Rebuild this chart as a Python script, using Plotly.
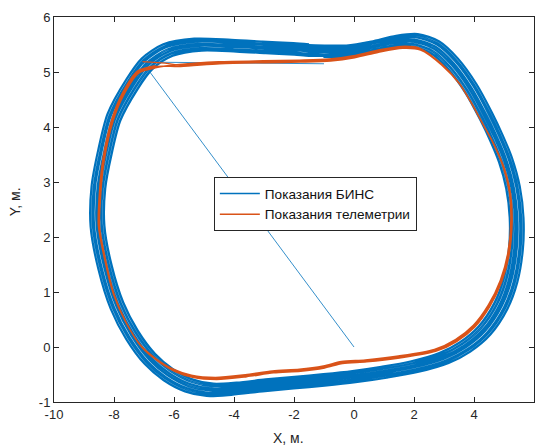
import plotly.graph_objects as go

# --- BINS (inertial navigation) trajectory -------------------------------
# initial alignment segment: from the origin to the start corner, then along the top
BINS_START_X = [0.0, -7.05, -1.0]
BINS_START_Y = [0.0, 5.18, 5.15]

# one lap of the BINS track, clockwise, starting on the top edge
BINS_LOOP_X = [-1.0, -0.3, 0.5, 1.3, 2.0, 2.7, 3.3, 3.9, 4.4, 4.75, 5.05, 5.3, 5.42,
               5.4, 5.22, 4.9, 4.35, 3.7, 3.0, 2.0, 1.0, 0.0, -1.0, -2.0, -3.0, -4.0,
               -4.8, -5.5, -6.2, -6.8, -7.4, -7.9, -8.3, -8.55, -8.52, -8.3, -8.0,
               -7.4, -6.9, -6.2, -5.2, -4.0, -3.0, -2.0, -1.5]
BINS_LOOP_Y = [5.38, 5.38, 5.45, 5.55, 5.58, 5.45, 5.15, 4.7, 4.2, 3.8, 3.4, 2.9, 2.35,
               1.8, 1.22, 0.75, 0.3, 0.0, -0.2, -0.36, -0.46, -0.54, -0.6, -0.65, -0.7,
               -0.76, -0.78, -0.7, -0.5, -0.22, 0.22, 0.75, 1.45, 2.2, 2.9, 3.55, 4.18,
               4.78, 5.15, 5.4, 5.5, 5.48, 5.45, 5.42, 5.4]

# per-lap drift of the BINS solution (scale about the track centre)
BINS_CENTER_X = -1.57
BINS_CENTER_Y = 2.4
BINS_LAP_SX = [0.965, 0.970, 0.977, 0.983, 0.990, 0.995, 1.001, 1.006, 1.014, 1.019, 1.024, 1.031, 1.035]
BINS_LAP_SY = [0.962, 0.968, 0.975, 0.981, 0.989, 0.994, 1.000, 1.006, 1.014, 1.019, 1.025, 1.032, 1.037]

# --- telemetry (reference) trajectory -------------------------------------
TEL_START_X = [-7.05, -6.3]
TEL_START_Y = [5.19, 5.16]

TEL_LOOP_X = [-5.8, -4.5, -3.0, -1.8, -0.8, 0.0, 0.8, 1.6, 2.2, 2.9, 3.5, 3.9, 4.3, 4.65,
              5.0, 5.2, 5.25, 5.15, 4.9, 4.5, 4.0, 3.4, 2.7, 1.5, 0.4, -0.4, -1.0, -1.8,
              -2.7, -3.6, -4.6, -5.4, -6.0, -6.6, -7.1, -7.6, -8.0, -8.3, -8.5, -8.45,
              -8.35, -8.05, -7.7, -7.2, -6.6]
TEL_LOOP_Y = [5.12, 5.17, 5.19, 5.2, 5.22, 5.28, 5.38, 5.45, 5.42, 5.15, 4.8, 4.45, 4.05,
              3.7, 3.25, 2.8, 2.3, 1.7, 1.2, 0.75, 0.38, 0.12, -0.06, -0.18, -0.25, -0.28,
              -0.36, -0.42, -0.45, -0.52, -0.57, -0.53, -0.42, -0.22, 0.02, 0.45, 0.95,
              1.6, 2.2, 2.9, 3.4, 4.13, 4.6, 5.0, 5.1]
TEL_LAP_DX = [0.0, 0.02, -0.02]
TEL_LAP_DY = [0.0, -0.02, 0.015]

X_TICKS = [-10, -8, -6, -4, -2, 0, 2, 4, 6]
Y_TICKS = [-1, 0, 1, 2, 3, 4, 5, 6]

BLUE = "#0072BD"
ORANGE = "#D95319"
INK = "#262626"
FONT = "Liberation Sans, Arial, sans-serif"

# assemble lap sequences
bins_x, bins_y = [], []
for sx, sy in zip(BINS_LAP_SX, BINS_LAP_SY):
    bins_x += [BINS_CENTER_X + (x - BINS_CENTER_X) * sx for x in BINS_LOOP_X]
    bins_y += [BINS_CENTER_Y + (y - BINS_CENTER_Y) * sy for y in BINS_LOOP_Y]

tel_x, tel_y = [], []
for dx, dy in zip(TEL_LAP_DX, TEL_LAP_DY):
    tel_x += [x + dx for x in TEL_LOOP_X]
    tel_y += [y + dy for y in TEL_LOOP_Y]

fig = go.Figure()

fig.add_trace(go.Scatter(
    x=BINS_START_X, y=BINS_START_Y, mode="lines",
    line=dict(color=BLUE, width=0.8), legendgroup="bins", showlegend=False,
    hoverinfo="skip"))
fig.add_trace(go.Scatter(
    x=bins_x, y=bins_y, mode="lines", name="Показания БИНС",
    line=dict(color=BLUE, width=1.3, shape="spline", smoothing=0.8),
    legendgroup="bins"))

fig.add_trace(go.Scatter(
    x=TEL_START_X + [TEL_LOOP_X[0]], y=TEL_START_Y + [TEL_LOOP_Y[0]], mode="lines",
    line=dict(color=ORANGE, width=1.2), legendgroup="tel", showlegend=False,
    hoverinfo="skip"))
fig.add_trace(go.Scatter(
    x=tel_x, y=tel_y, mode="lines", name="Показания телеметрии",
    line=dict(color=ORANGE, width=1.5, shape="spline", smoothing=0.8),
    legendgroup="tel"))

axis_common = dict(
    showgrid=False, zeroline=False, showline=True, linecolor=INK, linewidth=1,
    mirror="ticks", ticks="inside", ticklen=5, tickcolor=INK, tickwidth=1,
    tickfont=dict(family=FONT, size=13, color=INK),
)

fig.update_xaxes(range=[-10, 6], tickvals=X_TICKS,
                 ticktext=[str(v) for v in X_TICKS], **axis_common)
fig.update_yaxes(range=[-1, 6], tickvals=Y_TICKS,
                 ticktext=[str(v) for v in Y_TICKS], **axis_common)

fig.update_layout(
    width=535, height=447,
    margin=dict(l=54, r=1, t=17, b=45),
    paper_bgcolor="white", plot_bgcolor="white",
    showlegend=True,
    legend=dict(
        x=0.333, y=0.584, xanchor="left", yanchor="top",
        bgcolor="white", bordercolor=INK, borderwidth=1,
        font=dict(family=FONT, size=13.6, color="#111111"),
        itemwidth=40, tracegroupgap=0,
    ),
    annotations=[
        dict(text="X, м.", xref="paper", yref="paper", x=0.4875, y=-0.0935,
             showarrow=False, xanchor="center", yanchor="middle",
             font=dict(family=FONT, size=14, color=INK)),
        dict(text="Y, м.", xref="paper", yref="paper", x=-0.081, y=0.519,
             showarrow=False, xanchor="center", yanchor="middle", textangle=-90,
             font=dict(family=FONT, size=14, color=INK)),
    ],
)

fig.write_html("out.html")
